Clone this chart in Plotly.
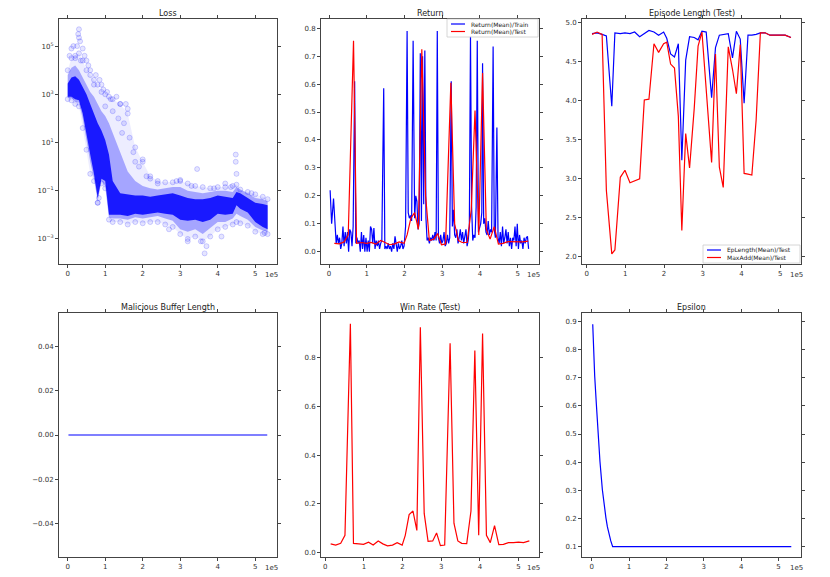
import plotly.graph_objects as go

# ---- data (x in units of 1e5 steps) ----
# loss: bands of the scatter cloud, log10 values
loss_x = [0, 0.1, 0.2, 0.3, 0.4, 0.5, 0.6, 0.7, 0.8, 0.9, 1.0, 1.1, 1.2, 1.4, 1.6, 1.8, 2.0, 2.2,
          2.4, 2.6, 2.8, 3.0, 3.2, 3.4, 3.6, 3.8, 4.0, 4.2, 4.4, 4.5, 4.6, 4.8, 5.0, 5.2, 5.33]
loss_core_hi = [3.45, 3.7, 3.75, 3.6, 3.3, 3.0, 2.6, 2.2, 1.8, 1.5, 1.1, 0.5, -0.6, -1.1, -1.15,
                -1.2, -1.2, -1.25, -1.2, -1.15, -1.1, -1.2, -1.3, -1.35, -1.35, -1.3, -1.2, -1.25,
                -1.3, -1.05, -1.1, -1.3, -1.5, -1.55, -1.6]
loss_core_lo = [2.9, 2.9, 2.8, 2.75, 2.2, 1.3, 0.5, -0.3, -1.3, -0.5, -0.6, -2.0, -2.0, -2.0, -2.05,
                -1.95, -2.0, -1.95, -1.9, -1.95, -2.0, -2.2, -2.25, -2.2, -2.3, -2.2, -1.95, -2.0,
                -1.95, -1.6, -1.75, -1.9, -2.3, -2.5, -2.6]
loss_mid_hi = [3.8, 4.1, 4.2, 4.0, 3.7, 3.4, 3.1, 2.9, 2.6, 2.3, 2.1, 1.8, 1.4, 0.6, -0.2, -0.6,
               -0.8, -0.9, -0.95, -0.9, -0.85, -0.85, -1.0, -1.05, -1.1, -1.05, -1.0, -1.0, -1.05,
               -0.85, -0.95, -1.1, -1.3, -1.35, -1.45]
loss_mid_lo = [2.85, 2.85, 2.7, 2.65, 2.0, 1.0, 0.2, -0.5, -1.4, -0.6, -0.8, -2.1, -2.15, -2.15,
               -2.2, -2.1, -2.15, -2.1, -2.05, -2.15, -2.25, -2.6, -2.7, -2.6, -2.8, -2.55, -2.3,
               -2.3, -2.15, -1.95, -2.05, -2.2, -2.5, -2.65, -2.7]
loss_halo_hi = [4.0, 4.5, 4.6, 4.7, 4.4, 4.0, 3.8, 3.6, 3.4, 3.1, 3.0, 2.9, 2.8, 2.6, 2.2, 0.8,
                0.2, -0.4, -0.6, -0.65, -0.65, -0.6, -0.7, -0.8, -0.85, -0.9, -0.85, -0.85, -0.8,
                -0.75, -0.95, -1.05, -1.15, -1.25, -1.35]
loss_halo_lo = [2.8, 2.75, 2.6, 2.5, 1.6, 0.7, -0.3, -0.6, -1.5, -0.7, -0.9, -2.2, -2.3, -2.3,
                -2.4, -2.3, -2.35, -2.3, -2.3, -2.4, -2.5, -2.8, -3.0, -2.9, -3.1, -2.9, -2.6,
                -2.5, -2.4, -2.3, -2.35, -2.45, -2.7, -2.8, -2.8]
loss_out_x = [0.3, 0.28, 0.3, 0.33, 0.1, 0.15, 0.05, 0.4, 0.45, 0.55, 0.6, 0.75, 0.85, 0.95, 1.05,
              0.9, 1.15, 1.3, 1.4, 1.55, 1.6, 1.5, 1.65, 1.8, 2.0, 1.9, 2.1, 3.45, 3.0, 4.2, 4.48,
              4.48, 4.5, 3.65, 3.2, 3.55, 3.7, 2.7, 0.8, 0.83, 4.1, 5.25, 0.2, 0.5, 0.7, 1.2, 1.35,
              2.4, 2.9, 3.3, 3.9, 4.35, 4.9, 2.2, 0.25, 0.35, 1.75, 1.45, 1.0]
loss_out_y = [5.7, 5.5, 5.35, 5.2, 4.9, 5.0, 4.6, 4.9, 4.6, 4.2, 4.0, 3.8, 3.6, 3.2, 3.1, 3.4, 2.8,
              2.9, 2.6, 2.6, 2.4, 1.8, 1.2, 0.2, 0.3, 0.0, -0.4, -0.1, -0.55, -0.7, 0.5, 0.2, -0.3,
              -3.6, -3.1, -3.1, -3.3, -2.6, -1.5, -1.3, -2.9, -2.75, 4.5, 4.4, 3.4, 2.3, 2.0,
              -0.7, -0.6, -0.8, -0.9, -0.85, -1.1, -0.5, 5.0, 4.4, 0.6, 1.4, 2.5]

# return (train)
train_x = [0.03, 0.07, 0.12, 0.16, 0.19, 0.22, 0.25, 0.28, 0.31, 0.34, 0.37, 0.40, 0.43, 0.46, 0.49,
           0.52, 0.55, 0.58, 0.61, 0.64, 0.68, 0.71, 0.74, 0.77, 0.80, 0.83, 0.86, 0.89, 0.92, 0.95,
           0.98, 1.01, 1.04, 1.07, 1.10, 1.13, 1.16, 1.19, 1.22, 1.25, 1.28, 1.31, 1.34, 1.37, 1.40,
           1.45, 1.48, 1.51, 1.54, 1.57, 1.60, 1.63, 1.66, 1.69, 1.72, 1.75, 1.78, 1.81, 1.84, 1.87,
           1.90, 1.93, 1.96, 1.99, 2.03, 2.07, 2.10, 2.13, 2.16, 2.19, 2.23, 2.27, 2.30, 2.33, 2.36,
           2.39, 2.42, 2.45, 2.48, 2.51, 2.54, 2.57, 2.60, 2.63, 2.66, 2.69, 2.72, 2.75, 2.78, 2.81,
           2.84, 2.87, 2.90, 2.93, 2.96, 2.99, 3.02, 3.05, 3.08, 3.11, 3.14, 3.17, 3.20, 3.24, 3.27,
           3.30, 3.33, 3.36, 3.39, 3.42, 3.45, 3.48, 3.51, 3.54, 3.57, 3.60, 3.63, 3.66, 3.69, 3.72,
           3.75, 3.78, 3.81, 3.84, 3.87, 3.90, 3.93, 3.96, 3.99, 4.02, 4.05, 4.07, 4.10, 4.13, 4.16,
           4.19, 4.22, 4.25, 4.28, 4.31, 4.35, 4.38, 4.41, 4.45, 4.48, 4.51, 4.54, 4.57, 4.60, 4.63,
           4.66, 4.69, 4.72, 4.75, 4.78, 4.81, 4.84, 4.87, 4.90, 4.93, 4.96, 4.99, 5.02, 5.05, 5.08,
           5.11, 5.14, 5.17, 5.20, 5.23, 5.26, 5.29]
train_y = [0.22, 0.10, 0.19, 0.07, 0.03, 0.06, 0.03, 0.05, 0.01, 0.03, 0.09, 0.02, 0.07, 0.03, 0.07,
           0.00, 0.08, 0.07, 0.02, 0.09, 0.61, 0.03, 0.05, 0.03, 0.04, 0.00, 0.07, 0.01, 0.06, 0.00,
           0.05, 0.00, 0.04, 0.00, 0.09, 0.08, 0.03, 0.085, 0.01, 0.04, 0.02, 0.04, 0.01, 0.03, 0.04,
           0.585, 0.01, 0.02, 0.01, 0.03, 0.01, 0.02, 0.00, 0.03, 0.01, 0.055, 0.02, 0.00, 0.03, 0.01,
           0.02, 0.04, 0.01, 0.02, 0.09, 0.79, 0.14, 0.12, 0.13, 0.11, 0.755, 0.12, 0.20, 0.18, 0.08,
           0.10, 0.71, 0.11, 0.70, 0.17, 0.72, 0.12, 0.04, 0.05, 0.03, 0.05, 0.04, 0.06, 0.04, 0.07,
           0.04, 0.79, 0.05, 0.03, 0.06, 0.03, 0.04, 0.07, 0.02, 0.03, 0.06, 0.03, 0.05, 0.61, 0.09,
           0.15, 0.06, 0.05, 0.08, 0.03, 0.05, 0.08, 0.04, 0.07, 0.03, 0.06, 0.08, 0.02, 0.04, 0.09,
           0.77, 0.16, 0.04, 0.06, 0.05, 0.16, 0.755, 0.07, 0.09, 0.10, 0.14, 0.675, 0.10, 0.12, 0.07,
           0.06, 0.11, 0.06, 0.08, 0.07, 0.735, 0.08, 0.05, 0.445, 0.05, 0.03, 0.07, 0.02, 0.09, 0.03,
           0.05, 0.08, 0.03, 0.07, 0.02, 0.05, 0.01, 0.05, 0.04, 0.09, 0.02, 0.10, 0.01, 0.06, 0.03,
           0.04, 0.01, 0.05, 0.03, 0.05, 0.055, 0.01]

# test evaluations
test_x = [0.14, 0.27, 0.40, 0.51, 0.65, 0.73, 0.87, 0.99, 1.12, 1.24, 1.37, 1.49, 1.61, 1.74, 1.86,
          1.99, 2.07, 2.17, 2.27, 2.37, 2.46, 2.56, 2.66, 2.78, 2.88, 2.98, 3.09, 3.23, 3.33, 3.43,
          3.53, 3.66, 3.77, 3.87, 3.97, 4.07, 4.17, 4.27, 4.38, 4.49, 4.61, 4.74, 4.87, 5.0, 5.13, 5.28]
test_return = [0.03, 0.028, 0.035, 0.06, 0.755, 0.03, 0.033, 0.03, 0.033, 0.027, 0.04, 0.032, 0.025,
               0.028, 0.035, 0.03, 0.06, 0.12, 0.14, 0.08, 0.725, 0.2, 0.04, 0.045, 0.065, 0.025,
               0.028, 0.605, 0.1, 0.04, 0.033, 0.033, 0.15, 0.505, 0.06, 0.64, 0.08, 0.045, 0.09,
               0.027, 0.03, 0.036, 0.036, 0.037, 0.035, 0.038]
win_rate = [0.035, 0.03, 0.037, 0.07, 0.94, 0.037, 0.035, 0.033, 0.042, 0.03, 0.047, 0.035, 0.027,
            0.03, 0.04, 0.03, 0.07, 0.155, 0.17, 0.09, 0.925, 0.16, 0.045, 0.047, 0.08, 0.028, 0.03,
            0.86, 0.12, 0.047, 0.037, 0.036, 0.17, 0.83, 0.07, 0.9, 0.07, 0.04, 0.11, 0.032, 0.033,
            0.04, 0.04, 0.042, 0.04, 0.047]
ep_length = [4.86, 4.87, 4.85, 4.83, 3.93, 4.87, 4.86, 4.87, 4.86, 4.88, 4.82, 4.86, 4.9, 4.88, 4.84,
             4.88, 4.8, 4.6, 4.56, 4.73, 3.24, 4.52, 4.82, 4.81, 4.78, 4.89, 4.88, 4.04, 4.68, 4.84,
             4.85, 4.86, 4.55, 4.89, 4.79, 3.97, 4.84, 4.84, 4.85, 4.87, 4.87, 4.84, 4.84, 4.84, 4.84,
             4.81]
max_add = [4.85, 4.88, 4.85, 2.85, 2.04, 2.09, 3.02, 3.11, 2.95, 2.97, 3.0, 4.01, 4.02, 4.73, 4.62,
           4.73, 4.75, 4.47, 4.42, 3.8, 2.34, 3.58, 3.14, 3.9, 4.7, 4.88, 4.1, 3.21, 4.6, 3.15, 2.89,
           4.69, 4.4, 4.09, 4.72, 3.07, 3.06, 3.05, 3.75, 4.87, 4.87, 4.84, 4.84, 4.84, 4.84, 4.81]

# malicious buffer length
buf_x = [0.02, 5.32]
buf_y = [0.0, 0.0]

# epsilon schedule
eps_x = [0.027, 0.045, 0.08, 0.125, 0.17, 0.22, 0.285, 0.33, 0.38, 0.42, 0.46, 0.51, 0.56, 5.34]
eps_y = [0.89, 0.805, 0.705, 0.604, 0.504, 0.403, 0.302, 0.25, 0.202, 0.17, 0.145, 0.12, 0.1, 0.1]

BLUE = "#0000ff"
RED = "#ff0000"
FONT = "DejaVu Sans"
W, H = 822, 569   # page body has an 8px margin


def px(x):
    return (x - 8) / W


def py(y):
    return 1 - (y - 8) / H


fig = go.Figure()

# loss cloud
p = lambda v: [10 ** e for e in v]
for lo, hi, col in [(loss_halo_lo, loss_halo_hi, "rgba(0,0,255,0.07)"),
                    (loss_mid_lo, loss_mid_hi, "rgba(0,0,255,0.3)"),
                    (loss_core_lo, loss_core_hi, "rgba(0,0,255,0.85)")]:
    fig.add_trace(go.Scatter(x=loss_x, y=p(lo), mode="lines", line=dict(width=0),
                             showlegend=False, xaxis="x", yaxis="y"))
    fig.add_trace(go.Scatter(x=loss_x, y=p(hi), mode="lines", line=dict(width=0), fill="tonexty",
                             fillcolor=col, showlegend=False, xaxis="x", yaxis="y"))
for xs, ys in [(loss_out_x, loss_out_y), (loss_x, loss_halo_hi), (loss_x, loss_halo_lo)]:
    fig.add_trace(go.Scatter(x=xs, y=p(ys), mode="markers", showlegend=False,
                             marker=dict(size=5, color="rgba(0,0,255,0.1)",
                                         line=dict(color="rgba(0,0,255,0.22)", width=0.8)),
                             xaxis="x", yaxis="y"))

# return
fig.add_trace(go.Scatter(x=train_x, y=train_y, mode="lines", line=dict(color=BLUE, width=1.2),
                         showlegend=False, xaxis="x2", yaxis="y2"))
fig.add_trace(go.Scatter(x=test_x, y=test_return, mode="lines", line=dict(color=RED, width=1.2),
                         showlegend=False, xaxis="x2", yaxis="y2"))
# episode length
fig.add_trace(go.Scatter(x=test_x, y=ep_length, mode="lines", line=dict(color=BLUE, width=1.2),
                         showlegend=False, xaxis="x3", yaxis="y3"))
fig.add_trace(go.Scatter(x=test_x, y=max_add, mode="lines", line=dict(color=RED, width=1.2),
                         showlegend=False, xaxis="x3", yaxis="y3"))
# malicious buffer
fig.add_trace(go.Scatter(x=buf_x, y=buf_y, mode="lines", showlegend=False,
                         line=dict(color=BLUE, width=1.2), xaxis="x4", yaxis="y4"))
# win rate
fig.add_trace(go.Scatter(x=test_x, y=win_rate, mode="lines", showlegend=False,
                         line=dict(color=RED, width=1.2), xaxis="x5", yaxis="y5"))
# epsilon
fig.add_trace(go.Scatter(x=eps_x, y=eps_y, mode="lines", showlegend=False,
                         line=dict(color=BLUE, width=1.2), xaxis="x6", yaxis="y6"))

xdom = [[px(59), px(277)], [px(321), px(539)], [px(582), px(801)]]
ydom = [[py(264), py(19)], [py(557), py(313)]]
xr = [[-0.232, 5.58], [-0.212, 5.566], [-0.12, 5.54], [-0.232, 5.58], [-0.11, 5.53], [-0.26, 5.6]]
yr = [[-4.04, 6.125], [-0.044, 0.833], [1.91, 5.047], [-0.055, 0.055], [-0.019, 0.984], [0.063, 0.93]]
titles = ["Loss", "Return", "Episode Length (Test)", "Malicious Buffer Length", "Win Rate (Test)",
          "Epsilon"]
title_y = [13.5, 307]
exp_x = [271, 533, 796]
exp_y = [275, 568]

axstyle = dict(showline=True, mirror="ticks", linecolor="#444", linewidth=1, ticks="outside",
               ticklen=3, tickcolor="#444", tickwidth=1, showgrid=False, zeroline=False,
               tickfont=dict(family=FONT, size=7, color="#333"))

layout = dict(width=W, height=H, margin=dict(l=0, r=0, t=0, b=0), plot_bgcolor="white",
              paper_bgcolor="white", font=dict(family=FONT, size=7, color="#222"), showlegend=False)
annotations = []
shapes = []
for i in range(6):
    r, c = divmod(i, 3)
    sfx = "" if i == 0 else str(i + 1)
    layout["xaxis" + sfx] = dict(axstyle, domain=xdom[c], range=xr[i], anchor="y" + sfx,
                                 tickvals=[0, 1, 2, 3, 4, 5], ticktext=["0", "1", "2", "3", "4", "5"])
    layout["yaxis" + sfx] = dict(axstyle, domain=ydom[r], range=yr[i], anchor="x" + sfx)
    annotations.append(dict(text=titles[i], x=(xdom[c][0] + xdom[c][1]) / 2, y=py(title_y[r]),
                            xref="paper", yref="paper", xanchor="center", yanchor="middle",
                            borderpad=0, showarrow=False,
                            font=dict(family=FONT, size=8, color="#222")))
    annotations.append(dict(text="1e5", x=px(exp_x[c]), y=py(exp_y[r]), xref="paper", yref="paper",
                            xanchor="center", yanchor="middle", showarrow=False,
                            font=dict(family=FONT, size=7, color="#333")))

layout["yaxis"].update(type="log", tickvals=[1e-3, 1e-1, 1e1, 1e3, 1e5],
                       ticktext=["10<sup>−3</sup>", "10<sup>−1</sup>", "10<sup>1</sup>",
                                 "10<sup>3</sup>", "10<sup>5</sup>"])
layout["yaxis2"].update(tickvals=[0, 0.1, 0.2, 0.3, 0.4, 0.5, 0.6, 0.7, 0.8], tickformat=".1f")
layout["yaxis3"].update(tickvals=[2.0, 2.5, 3.0, 3.5, 4.0, 4.5, 5.0], tickformat=".1f")
layout["yaxis4"].update(tickvals=[-0.04, -0.02, 0, 0.02, 0.04], tickformat=".2f")
layout["yaxis5"].update(tickvals=[0, 0.2, 0.4, 0.6, 0.8], tickformat=".1f")
layout["yaxis6"].update(tickvals=[0.1, 0.2, 0.3, 0.4, 0.5, 0.6, 0.7, 0.8, 0.9], tickformat=".1f")

# matplotlib-style legends (box, line sample, label)
legends = [
    ((447, 538, 19, 37), [("Return(Mean)/Train", BLUE), ("Return(Mean)/Test", RED)]),
    ((703, 800, 245, 263), [("EpLength(Mean)/Test", BLUE), ("MaxAdd(Mean)/Test", RED)]),
]
for (x0, x1, y0, y1), entries in legends:
    shapes.append(dict(type="rect", xref="paper", yref="paper", x0=px(x0), x1=px(x1),
                       y0=py(y1), y1=py(y0), line=dict(color="#cccccc", width=0.8),
                       fillcolor="rgba(255,255,255,0.8)", layer="above"))
    for k, (label, col) in enumerate(entries):
        yy = y0 + 5 + k * 7.5
        shapes.append(dict(type="line", xref="paper", yref="paper", x0=px(x0 + 4), x1=px(x0 + 18),
                           y0=py(yy), y1=py(yy), line=dict(color=col, width=1.2), layer="above"))
        annotations.append(dict(text=label, x=px(x0 + 22), y=py(yy), xref="paper", yref="paper",
                                xanchor="left", yanchor="middle", showarrow=False,
                                font=dict(family=FONT, size=6, color="#222")))

layout["annotations"] = annotations
layout["shapes"] = shapes

fig.update_layout(**layout)
fig.write_html("out.html")
